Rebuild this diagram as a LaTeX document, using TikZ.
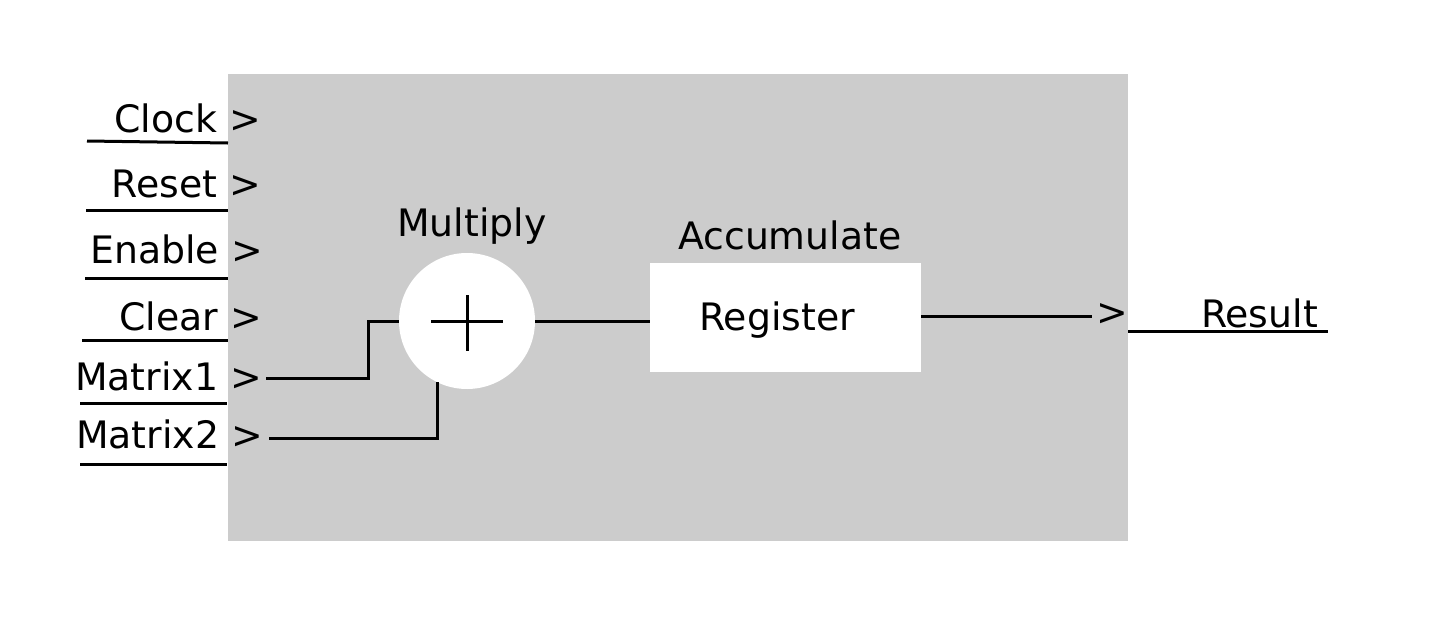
\documentclass[tikz,border=0pt]{standalone}
\usepackage{fontspec}
\setmainfont{DejaVu Sans}
\usetikzlibrary{calc}
\definecolor{blockgray}{HTML}{CCCCCC}
\begin{document}
\begin{tikzpicture}[x=1pt,y=-1pt,
  wire/.style={line width=3pt,black},
  lbl/.style={inner sep=0pt,font=\fontsize{37.8}{45}\selectfont},
  nolbl/.style={inner sep=0pt,outer sep=0pt}]
\useasboundingbox[fill=white] (0,0) rectangle (1438,635);
% main block
\fill[blockgray] (228,74) rectangle (1128,541);
% input labels
\node[lbl,anchor=base east] (clk) at (261,132) {Clock >};
\node[lbl,anchor=base east] (rst) at (261,197) {Reset >};
\node[lbl,anchor=base east] (ena) at (263,263) {Enable >};
\node[lbl,anchor=base east] (clr) at (262,330) {Clear >};
\node[lbl,anchor=base east] (m1) at (262,390) {Matrix1 >};
\node[lbl,anchor=base east] (m2) at (263,448) {Matrix2 >};
% input underlines
\draw[wire] (87,141) -- (228,143);
\draw[wire] (86,210) -- (228,210);
\draw[wire] (85,278) -- (228,278);
\draw[wire] (82,340) -- (228,340);
\draw[wire] (80,403) -- (227,403);
\draw[wire] (80,464) -- (227,464);
% multiplier
\node[circle,fill=white,minimum size=136pt,nolbl] (mul) at (467,321) {};
\draw[wire] (mul.center) ++(-36,0) -- ++(72,0);
\draw[wire] (mul.center) ++(0,-26) -- ++(0,56);
\node[lbl,anchor=base west] (multxt) at (397,236) {Multiply};
% register
\node[rectangle,fill=white,minimum width=271pt,minimum height=109pt,nolbl] (reg) at (785.5,317.5) {};
\node[lbl,anchor=base] (regtxt) at (777,330) {Register};
\node[lbl,anchor=base west] (acc) at (678,249) {Accumulate};
% wires
\coordinate (m1in) at (266,378);
\coordinate (m2in) at (269,438);
\draw[wire] (m1in) -- ++(102,0) |- (mul.west);
\draw[wire] (m2in) -| (mul.244);
\draw[wire] (mul.east) -- (mul.east -| reg.west);
\coordinate (outend) at (1092,316);
\draw[wire] (reg.east |- outend) -- (outend);
% output
\node[lbl,anchor=base west] (outarr) at (1096,325) {>};
\node[lbl,anchor=base east] (res) at (1318,327) {Result};
\coordinate (resl) at (1128,331);
\coordinate (resr) at (1328,331);
\draw[wire] (resl) -- (resr);
\end{tikzpicture}
\end{document}
